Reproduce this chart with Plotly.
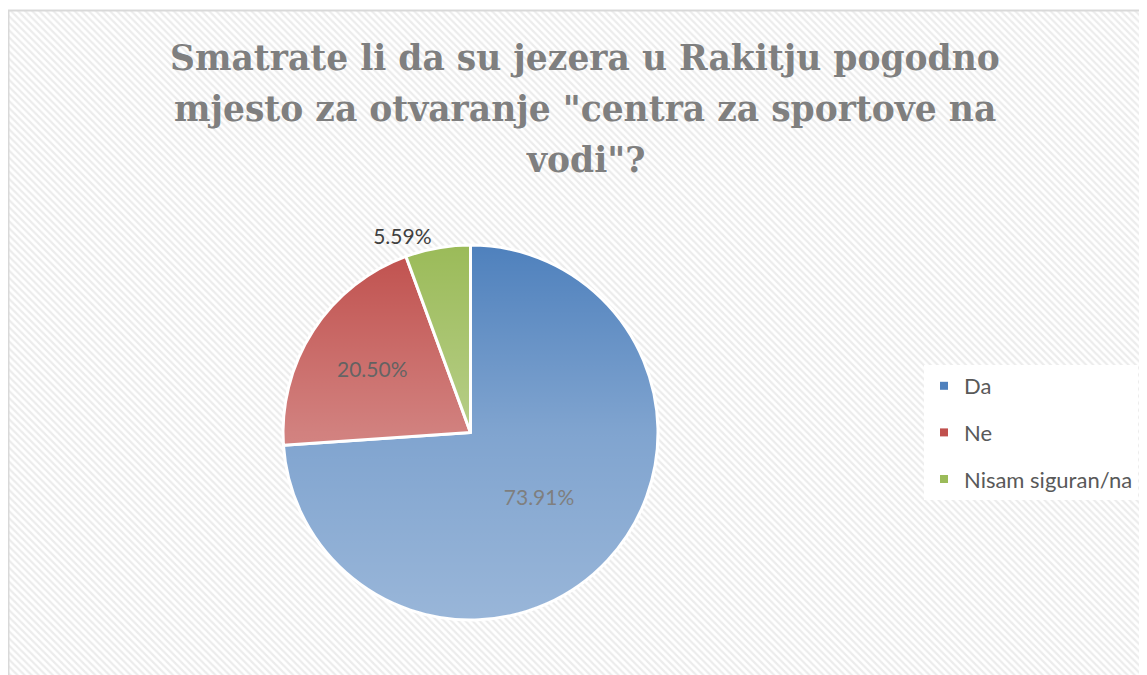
import base64

import plotly.graph_objects as go

# --- Data ---
labels = ["Da", "Ne", "Nisam siguran/na"]
values = [73.91, 20.50, 5.59]
colors = ["#4f81bd", "#c0504d", "#9bbb59"]
text_positions = ["inside", "inside", "outside"]

title_lines = [
    "Smatrate li da su jezera u Rakitju pogodno",
    'mjesto za otvaranje "centra za sportove na',
    'vodi"?',
]

# page has an 8px body margin, so the figure is a little smaller than the window
W, H = 1139, 667


def px(x):
    return x / W


def py(y):
    return 1 - y / H


# pie box in figure pixels (left, top, size)
pie_left, pie_top, pie_size = 275, 237, 375

# --- light gradient over the pie (Excel style shading) ---
grad_svg = """<svg xmlns='http://www.w3.org/2000/svg' width='400' height='400' viewBox='0 0 400 400'>
<defs><linearGradient id='g' x1='0' y1='0' x2='0' y2='1'>
<stop offset='0' stop-color='#ffffff' stop-opacity='0'/>
<stop offset='0.5' stop-color='#ffffff' stop-opacity='0.28'/>
<stop offset='1' stop-color='#ffffff' stop-opacity='0.42'/>
</linearGradient></defs>
<circle cx='200' cy='200' r='199' fill='url(#g)'/>
</svg>"""
grad_src = "data:image/svg+xml;base64," + base64.b64encode(grad_svg.encode()).decode()

fig = go.Figure()

# hatched chart background
fig.add_trace(
    go.Scatter(
        x=[px(1), 1, 1, px(1), px(1)],
        y=[0, 0, py(3), py(3), 0],
        mode="none",
        fill="toself",
        fillcolor="white",
        fillpattern=dict(shape="\\", size=5, solidity=0.45, fgcolor="#d9d9d9", bgcolor="white"),
        hoverinfo="skip",
        showlegend=False,
    )
)

# legend entries
for lab, col in zip(labels, colors):
    fig.add_trace(
        go.Scatter(
            x=[None],
            y=[None],
            mode="markers",
            name=lab,
            legendgroup=lab,
            marker=dict(symbol="square", size=8, color=col),
        )
    )

fig.add_trace(
    go.Pie(
        labels=labels,
        values=values,
        sort=False,
        direction="clockwise",
        rotation=0,
        marker=dict(colors=colors, line=dict(color="white", width=3)),
        texttemplate="%{value:.2f}%",
        textposition=text_positions,
        insidetextorientation="horizontal",
        textfont=dict(family="Lato, Open Sans, sans-serif", size=21, color="#404040"),
        domain=dict(
            x=[px(pie_left), px(pie_left + pie_size)],
            y=[py(pie_top + pie_size), py(pie_top)],
        ),
        showlegend=False,
        hoverinfo="label+percent",
    )
)

# title, one line per annotation so the line spacing matches
title_font = dict(family="DejaVu Serif, serif", size=34.5, color="#7f7f7f", weight="bold")
for i, line in enumerate(title_lines):
    fig.add_annotation(
        text=line,
        xref="paper",
        yref="paper",
        x=px(577),
        y=py(50 + 51 * i),
        xanchor="center",
        yanchor="middle",
        showarrow=False,
        font=title_font,
    )

fig.update_layout(
    width=W,
    height=H,
    margin=dict(l=0, r=0, t=0, b=0),
    paper_bgcolor="white",
    plot_bgcolor="rgba(0,0,0,0)",
    xaxis=dict(range=[0, 1], domain=[0, 1], visible=False, fixedrange=True),
    yaxis=dict(range=[0, 1], domain=[0, 1], visible=False, fixedrange=True),
    legend=dict(
        x=px(916),
        xanchor="left",
        y=py(357),
        yanchor="top",
        bgcolor="white",
        tracegroupgap=15,
        font=dict(family="Lato, Open Sans, sans-serif", size=22, color="#595959"),
    ),
    images=[
        dict(
            source=grad_src,
            xref="paper",
            yref="paper",
            x=px(pie_left),
            y=py(pie_top),
            sizex=pie_size / W,
            sizey=pie_size / H,
            xanchor="left",
            yanchor="top",
            sizing="stretch",
            layer="above",
        )
    ],
    shapes=[
        dict(
            type="rect",
            xref="paper",
            yref="paper",
            x0=px(0.5),
            x1=1.05,
            y0=-0.05,
            y1=py(2.5),
            line=dict(color="#d9d9d9", width=2),
            layer="above",
        )
    ],
)

fig.write_html("out.html")
